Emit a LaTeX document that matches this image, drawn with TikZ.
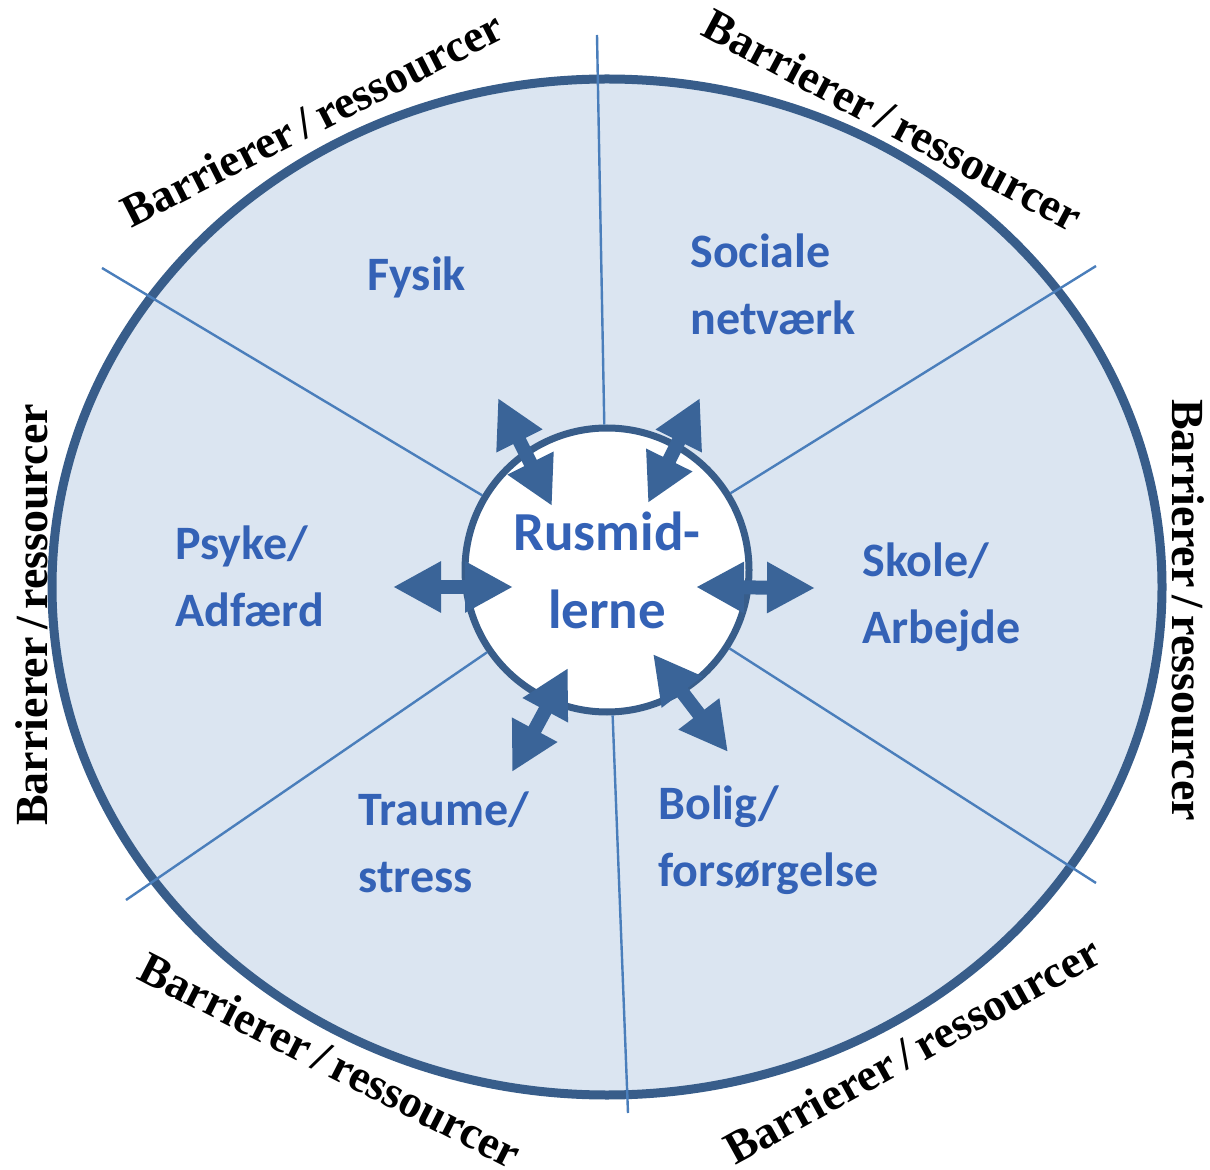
\documentclass[tikz,border=0pt]{standalone}
\usepackage{fontspec}
\setmainfont{Liberation Serif}
\newfontfamily\calfont{Carlito}
\usetikzlibrary{arrows.meta}
\definecolor{rim}{RGB}{56,93,138}
\definecolor{wedge}{RGB}{219,229,241}
\definecolor{spoke}{RGB}{74,126,187}
\definecolor{pil}{RGB}{58,100,152}
\definecolor{lbl}{RGB}{52,98,182}

\begin{document}
\begin{tikzpicture}[x=0.5pt,y=-0.5pt,
  area/.style={font=\calfont\bfseries\fontsize{24}{33.5}\selectfont,text=lbl,align=left,anchor=west,inner sep=0},
  barr/.style={font=\bfseries\fontsize{23}{23}\selectfont,inner sep=0},
  dbl/.style={draw=pil,line width=7pt,{Triangle[width=24pt,length=24pt]}-{Triangle[width=24pt,length=24pt]}}]
\useasboundingbox (0,0) rectangle (1210,1170);
\draw[rim,line width=4.5pt,fill=wedge] (607,587) ellipse [x radius=555,y radius=508];
\node[circle,draw=rim,fill=white,line width=3.5pt,minimum size=142pt,inner sep=0,
  align=center,text=lbl,font=\calfont\bfseries\fontsize{27.5}{39}\selectfont]
  (rus) at (607,570) {Rusmid-\\lerne};
% Spokes
\foreach \x/\y [count=\i] in {597/35,1096/266,1096/883,628/1113,126/900,102/268}
{
        \coordinate (o\i) at (\x,\y);
        \draw[spoke,line width=1.2pt] (rus) -- (o\i);
}
% Barrierer/ressourcer
\foreach \x/\y/\r [count=\i] in {312/119/27,893/120/-28,1188/610/-90,912/1050/29,330/1060/-27,32/615/90}
{
        \node[barr,rotate=\r] (b\i) at (\x,\y) {Barrierer\,/\,ressourcer};
}
\node[area] (fysik) at (367,277) {Fysik};
\node[area] (soc) at (690,284) {Sociale\\netværk};
\node[area] (skole) at (862,597) {Skole/\\Arbejde};
\node[area] (bolig) at (658,840) {Bolig/\\forsørgelse};
\node[area] (traume) at (358,842) {Traume/\\stress};
\node[area] (psyke) at (175,576) {Psyke/\\Adfærd};
% Arrows
\foreach \a/\b/\c/\d [count=\i] in {552/506/498/398,648/503/700/398,696/587/815/588,653/654/728/752,568/668/512/772,513/587/393/587}
{
        \coordinate (ai\i) at (\a,\b);
        \coordinate (ao\i) at (\c,\d);
        \draw[dbl] (ai\i) -- (ao\i);
}
\end{tikzpicture}
\end{document}
